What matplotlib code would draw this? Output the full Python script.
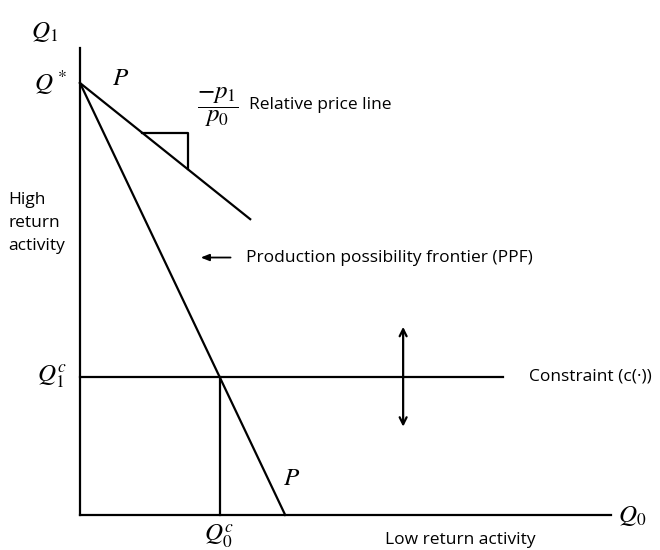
import numpy as np
import matplotlib.pyplot as plt

plt.rcParams['mathtext.fontset'] = 'stix'
plt.rcParams['font.family'] = ['Open Sans', 'DejaVu Sans']

# diagram values (units: Q* = 10)
q_star = 10.0          # high-return output when everything goes to Q1
ppf_q0_max = 4.75      # PPF intercept on the Q0 axis
price_slope = -0.8     # slope of the relative price line
price_end_x = 3.94     # where the relative price line stops
q1_c = 3.2             # constraint level
axis_top = 10.8
axis_right = 12.3
constraint_end = 9.8

# Q0 at the constraint, from the PPF
q0_c = ppf_q0_max * (1 - q1_c / q_star)

fig = plt.figure(figsize=(6.6, 5.5), dpi=100)
ax = fig.add_axes([0, 0, 1, 1])
s = 43.2
ax.set_xlim(-80 / s, 580 / s)
ax.set_ylim(-35 / s, 515 / s)
ax.axis('off')

lw = 1.6
k = 'black'
# axes
ax.plot([0, 0], [0, axis_top], color=k, lw=lw)
ax.plot([0, axis_right], [0, 0], color=k, lw=lw)

# PPF
ax.plot([0, ppf_q0_max], [q_star, 0], color=k, lw=lw)
# relative price line
px = np.array([0, price_end_x])
ax.plot(px, q_star + price_slope * px, color=k, lw=lw)
# slope box
bx0, bx1 = 1.44, 2.5
ax.plot([bx0, bx1, bx1], [q_star + price_slope * bx0] * 2 + [q_star + price_slope * bx1],
        color=k, lw=lw)

# constraint
ax.plot([0, constraint_end], [q1_c, q1_c], color=k, lw=lw)
ax.plot([q0_c, q0_c], [0, q1_c], color=k, lw=lw)

# double arrow on the constraint
ax.annotate('', xy=(7.48, q1_c + 1.22), xytext=(7.48, q1_c - 1.22),
            arrowprops=dict(arrowstyle='<->,head_length=0.5,head_width=0.25', color=k, lw=lw))
# PPF pointer
ax.annotate('', xy=(2.73, 5.96), xytext=(3.55, 5.96),
            arrowprops=dict(arrowstyle='-|>,head_length=0.5,head_width=0.2', color=k, lw=1.3))

mfs = 18
ax.text(-0.5, 11.2, r'$Q_1$', fontsize=mfs, ha='right', va='center')
ax.text(-0.3, q_star, r'$Q^*$', fontsize=mfs, ha='right', va='center')
ax.text(-0.3, q1_c, r'$Q_1^c$', fontsize=mfs, ha='right', va='center')
ax.text(q0_c, -0.5, r'$Q_0^c$', fontsize=mfs, ha='center', va='center')
ax.text(12.45, 0, r'$Q_0$', fontsize=mfs, ha='left', va='center')
ax.text(0.95, 10.1, r'$P$', fontsize=mfs, ha='center', va='center')
ax.text(4.9, 0.85, r'$P$', fontsize=mfs, ha='center', va='center')
ax.text(3.2, 9.45, r'$\dfrac{-p_1}{p_0}$', fontsize=mfs, ha='center', va='center')

tfs = 12.5
ax.text(3.92, 9.5, 'Relative price line', fontsize=tfs, ha='left', va='center')
ax.text(-1.65, 6.76, 'High\nreturn\nactivity', fontsize=tfs, ha='left', va='center',
        linespacing=1.55)
ax.text(3.85, 5.96, 'Production possibility frontier (PPF)', fontsize=tfs,
        ha='left', va='center')
ax.text(10.4, q1_c, 'Constraint (c(\u00b7))', fontsize=tfs, ha='left', va='center')
ax.text(7.05, -0.58, 'Low return activity', fontsize=tfs, ha='left', va='center')

fig.savefig('out.png', dpi=100)
